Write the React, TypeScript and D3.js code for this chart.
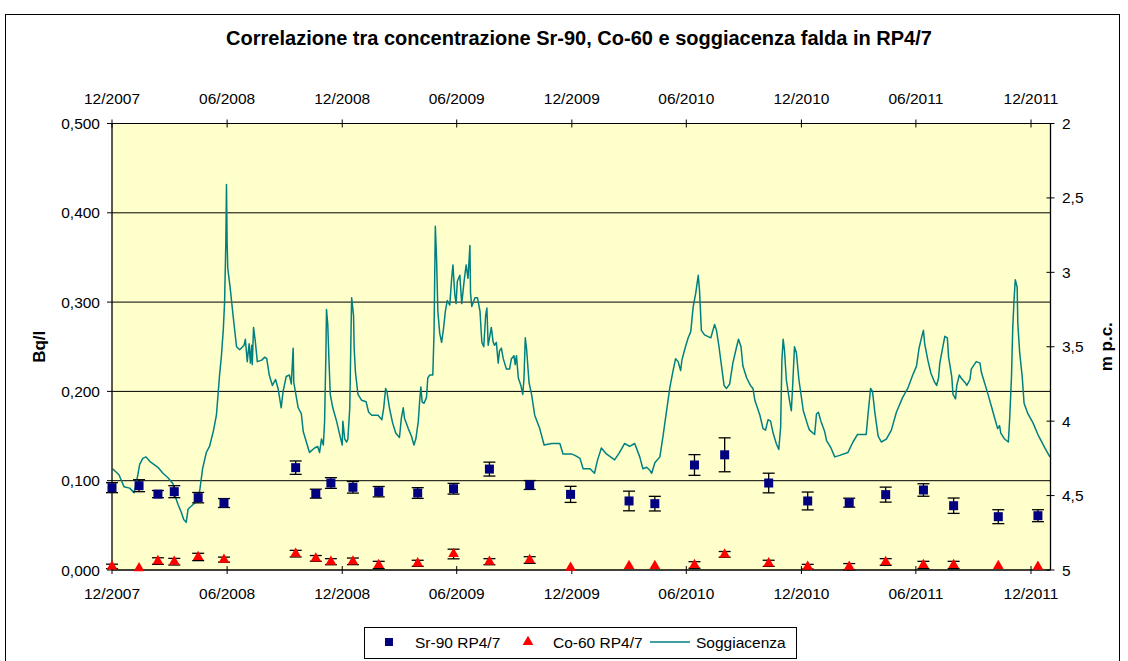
import React from "react";
import * as d3 from "d3";

const TITLE = "Correlazione tra concentrazione Sr-90, Co-60 e soggiacenza falda in RP4/7";
const LEFT_TICKS = [0, 0.1, 0.2, 0.3, 0.4, 0.5];
const RIGHT_TICKS = [2, 2.5, 3, 3.5, 4, 4.5, 5];
const DATE_TICKS = ["2007-12-01", "2008-06-01", "2008-12-01", "2009-06-01", "2009-12-01", "2010-06-01", "2010-12-01", "2011-06-01", "2011-12-01"];

const sampleDates = ["2007-12-01","2008-01-13","2008-02-12","2008-03-09","2008-04-16","2008-05-27","2008-09-18","2008-10-20","2008-11-13","2008-12-18","2009-01-28","2009-03-31","2009-05-27","2009-07-23","2009-09-25","2009-11-29","2010-03-02","2010-04-12","2010-06-14","2010-08-01","2010-10-10","2010-12-11","2011-02-15","2011-04-14","2011-06-13","2011-07-31","2011-10-10","2011-12-12"];
const sr90 = [0.0922,0.0944,0.085,0.0877,0.081,0.075,0.1146,0.0855,0.0974,0.0926,0.0877,0.0862,0.091,0.113,0.0952,0.0847,0.0773,0.0743,0.1176,0.129,0.0974,0.0773,0.0754,0.0844,0.0896,0.072,0.0597,0.0608];
const sr90Err = [0.0056,0.0067,0.004,0.0067,0.0058,0.005,0.0075,0.005,0.006,0.0065,0.0058,0.006,0.006,0.0078,0.005,0.009,0.011,0.0082,0.0116,0.019,0.011,0.01,0.005,0.0084,0.007,0.0086,0.0078,0.0067];
const co60 = [0.004,0.002,0.01,0.0093,0.0146,0.0116,0.0183,0.013,0.0093,0.0097,0.0056,0.0075,0.0179,0.0093,0.0112,0.0026,0.0045,0.0045,0.0056,0.0175,0.0075,0.0037,0.0037,0.009,0.0056,0.0056,0.0045,0.0037];
const co60Err = [0.0025,0,0.0037,0.0037,0.0041,0.0028,0.0037,0.0032,0.0034,0.0037,0.0041,0.0034,0.0054,0.0034,0.0037,0,0,0,0.0037,0.0032,0.0034,0.0026,0.0035,0.0037,0.0041,0.0041,0,0];

const soggDates = ["2007-12-02","2007-12-12","2007-12-20","2007-12-29","2008-01-05","2008-01-09","2008-01-14","2008-01-19","2008-01-24","2008-01-30","2008-02-12","2008-02-20","2008-02-28","2008-03-07","2008-03-10","2008-03-15","2008-03-20","2008-03-24","2008-03-28","2008-03-31","2008-04-08","2008-04-16","2008-04-19","2008-04-23","2008-04-29","2008-05-04","2008-05-10","2008-05-15","2008-05-18","2008-05-20","2008-05-23","2008-05-26","2008-05-28","2008-05-30","2008-05-31","2008-06-01","2008-06-02","2008-06-06","2008-06-11","2008-06-16","2008-06-21","2008-06-28","2008-06-30","2008-07-03","2008-07-06","2008-07-08","2008-07-10","2008-07-11","2008-07-13","2008-07-16","2008-07-19","2008-07-26","2008-07-31","2008-08-03","2008-08-07","2008-08-12","2008-08-17","2008-08-21","2008-08-26","2008-08-29","2008-09-03","2008-09-08","2008-09-11","2008-09-14","2008-09-15","2008-09-22","2008-09-27","2008-09-30","2008-10-05","2008-10-10","2008-10-18","2008-10-23","2008-10-26","2008-10-29","2008-11-01","2008-11-03","2008-11-05","2008-11-06","2008-11-08","2008-11-10","2008-11-12","2008-11-16","2008-11-22","2008-11-27","2008-12-01","2008-12-02","2008-12-05","2008-12-08","2008-12-10","2008-12-13","2008-12-15","2008-12-16","2008-12-19","2008-12-20","2008-12-22","2008-12-26","2009-01-01","2009-01-08","2009-01-12","2009-01-17","2009-01-27","2009-02-02","2009-02-05","2009-02-08","2009-02-10","2009-02-14","2009-02-19","2009-02-24","2009-03-02","2009-03-05","2009-03-08","2009-03-10","2009-03-16","2009-03-21","2009-03-25","2009-03-28","2009-04-01","2009-04-03","2009-04-05","2009-04-07","2009-04-10","2009-04-14","2009-04-16","2009-04-19","2009-04-24","2009-04-26","2009-04-28","2009-04-30","2009-05-02","2009-05-05","2009-05-08","2009-05-11","2009-05-14","2009-05-17","2009-05-21","2009-05-24","2009-05-26","2009-05-29","2009-05-31","2009-06-02","2009-06-06","2009-06-09","2009-06-13","2009-06-16","2009-06-19","2009-06-22","2009-06-23","2009-06-25","2009-06-30","2009-07-04","2009-07-08","2009-07-11","2009-07-14","2009-07-17","2009-07-19","2009-07-21","2009-07-24","2009-07-26","2009-07-29","2009-07-31","2009-08-03","2009-08-06","2009-08-08","2009-08-11","2009-08-14","2009-08-19","2009-08-24","2009-08-27","2009-08-31","2009-09-02","2009-09-04","2009-09-07","2009-09-11","2009-09-14","2009-09-16","2009-09-18","2009-09-20","2009-09-24","2009-09-28","2009-10-03","2009-10-11","2009-10-18","2009-10-30","2009-11-12","2009-11-17","2009-11-25","2009-11-30","2009-12-06","2009-12-14","2009-12-19","2009-12-30","2010-01-06","2010-01-11","2010-01-17","2010-01-25","2010-02-07","2010-02-15","2010-02-23","2010-03-03","2010-03-11","2010-03-19","2010-03-24","2010-03-30","2010-04-04","2010-04-07","2010-04-12","2010-04-20","2010-04-25","2010-04-30","2010-05-06","2010-05-11","2010-05-15","2010-05-19","2010-05-23","2010-05-25","2010-05-30","2010-06-04","2010-06-08","2010-06-12","2010-06-16","2010-06-20","2010-06-22","2010-06-25","2010-06-30","2010-07-10","2010-07-14","2010-07-16","2010-07-19","2010-07-23","2010-07-27","2010-07-31","2010-08-04","2010-08-09","2010-08-14","2010-08-20","2010-08-23","2010-08-27","2010-08-30","2010-09-05","2010-09-11","2010-09-15","2010-09-18","2010-09-26","2010-10-01","2010-10-05","2010-10-09","2010-10-13","2010-10-17","2010-10-22","2010-10-26","2010-10-29","2010-10-31","2010-11-02","2010-11-04","2010-11-07","2010-11-12","2010-11-15","2010-11-17","2010-11-20","2010-11-23","2010-11-27","2010-12-04","2010-12-12","2010-12-14","2010-12-22","2010-12-25","2010-12-28","2011-01-01","2011-01-07","2011-01-10","2011-01-17","2011-01-23","2011-01-31","2011-02-13","2011-02-21","2011-02-28","2011-03-14","2011-03-17","2011-03-21","2011-03-24","2011-03-28","2011-04-02","2011-04-07","2011-04-15","2011-04-23","2011-05-01","2011-05-11","2011-05-19","2011-05-27","2011-06-02","2011-06-06","2011-06-11","2011-06-13","2011-06-15","2011-06-20","2011-06-25","2011-07-01","2011-07-04","2011-07-07","2011-07-09","2011-07-13","2011-07-17","2011-07-21","2011-07-23","2011-07-28","2011-07-30","2011-08-03","2011-08-05","2011-08-09","2011-08-12","2011-08-18","2011-08-21","2011-08-26","2011-08-28","2011-09-05","2011-09-11","2011-09-13","2011-09-18","2011-09-23","2011-09-29","2011-10-05","2011-10-09","2011-10-12","2011-10-14","2011-10-20","2011-10-26","2011-10-28","2011-10-31","2011-11-02","2011-11-04","2011-11-06","2011-11-09","2011-11-10","2011-11-13","2011-11-17","2011-11-20","2011-11-26","2011-12-04","2011-12-12","2011-12-23","2011-12-31"];
const soggDepth = [4.32,4.36,4.44,4.45,4.48,4.41,4.29,4.25,4.24,4.27,4.31,4.35,4.38,4.42,4.50,4.56,4.61,4.66,4.68,4.59,4.56,4.53,4.45,4.32,4.21,4.17,4.07,3.96,3.80,3.69,3.56,3.38,3.20,2.79,2.41,2.79,2.97,3.11,3.31,3.50,3.52,3.49,3.45,3.60,3.48,3.61,3.49,3.62,3.37,3.47,3.60,3.59,3.57,3.58,3.69,3.76,3.72,3.78,3.91,3.80,3.70,3.69,3.75,3.51,3.74,3.91,3.95,4.07,4.14,4.21,4.18,4.17,4.21,4.12,4.16,4.00,3.56,3.25,3.35,3.60,3.82,3.91,4.00,4.09,4.16,4.00,4.12,4.14,4.12,3.91,3.40,3.17,3.29,3.51,3.67,3.82,3.86,3.87,3.94,3.96,3.96,3.99,3.91,3.78,3.80,3.91,4.01,4.08,4.11,3.98,3.91,3.98,4.05,4.10,4.16,4.12,4.00,3.87,3.77,3.87,3.88,3.84,3.71,3.69,3.69,3.40,2.69,2.91,3.26,3.41,3.47,3.38,3.26,3.19,3.22,3.04,2.95,3.15,3.21,3.06,3.02,3.21,3.05,2.95,3.04,2.82,3.14,3.23,3.17,3.17,3.26,3.47,3.50,3.29,3.24,3.49,3.42,3.37,3.47,3.49,3.47,3.61,3.53,3.51,3.58,3.65,3.65,3.58,3.56,3.62,3.56,3.71,3.76,3.82,3.71,3.44,3.51,3.74,3.82,3.96,4.05,4.16,4.15,4.15,4.22,4.22,4.22,4.23,4.25,4.32,4.32,4.35,4.26,4.18,4.22,4.26,4.21,4.15,4.17,4.15,4.24,4.32,4.31,4.33,4.35,4.28,4.24,4.10,3.95,3.77,3.66,3.58,3.60,3.66,3.59,3.51,3.44,3.40,3.23,3.14,3.02,3.12,3.39,3.42,3.44,3.38,3.35,3.39,3.50,3.63,3.76,3.78,3.75,3.61,3.50,3.45,3.50,3.63,3.71,3.76,3.78,3.86,3.96,4.05,4.06,3.99,4.00,4.08,4.15,4.19,4.04,3.59,3.45,3.52,3.72,3.86,3.93,3.77,3.50,3.54,3.72,3.93,4.04,4.06,4.09,3.95,3.94,4.00,4.07,4.13,4.18,4.24,4.23,4.21,4.14,4.09,4.09,3.95,3.78,3.80,3.95,4.10,4.14,4.12,4.06,3.94,3.84,3.78,3.69,3.63,3.51,3.42,3.39,3.48,3.59,3.68,3.74,3.76,3.71,3.61,3.52,3.43,3.44,3.57,3.70,3.82,3.85,3.76,3.69,3.71,3.74,3.76,3.72,3.65,3.60,3.61,3.67,3.74,3.81,3.90,3.99,4.05,4.03,4.08,4.12,4.14,3.99,3.70,3.37,3.19,3.05,3.10,3.34,3.54,3.70,3.88,3.95,4.01,4.09,4.18,4.24];

const FONT = "'Liberation Sans', Arial, sans-serif";
const NAVY = "#000080";
const RED = "#FF0000";
const TEAL = "#008080";
const TICK_FS = 15.5;

export default function App() {
  const x = d3.scaleUtc().domain([new Date("2007-12-01"), new Date("2012-01-01")]).range([112, 1050.5]);
  const yL = d3.scaleLinear().domain([0, 0.5]).range([570, 123.5]);
  const yR = d3.scaleLinear().domain([2, 5]).range([123.5, 570]);
  const [x0, x1] = x.range();
  const [yb, yt] = yL.range();
  const fmtL = (v: number) => d3.format(".3f")(v).replace(".", ",");
  const fmtR = (v: number) => String(v).replace(".", ",");
  const fmtD = d3.utcFormat("%m/%Y");

  const soggPts: [Date, number][] = soggDates.map((d, i) => [new Date(d), soggDepth[i]]);
  const line = d3.line<[Date, number]>().x(p => x(p[0])).y(p => yR(p[1]));
  const tri = d3.symbol().type(d3.symbolTriangle).size(50)();

  const errBar = (cx: number, v: number, e: number, key: string) => {
    if (!e) return null;
    const top = yL(v + e), bot = yL(v - e);
    return (
      <g key={key} stroke="#000" strokeWidth={1.3}>
        <line x1={cx} x2={cx} y1={top} y2={bot} />
        <line x1={cx - 6} x2={cx + 6} y1={top} y2={top} />
        <line x1={cx - 6} x2={cx + 6} y1={bot} y2={bot} />
      </g>
    );
  };

  return (
    <svg width={1128} height={661} style={{ position: "absolute", left: 0, top: 0, display: "block" }} fontFamily={FONT}>
      <rect x={0} y={0} width={1128} height={661} fill="#fff" />
      <rect x={5.5} y={14.5} width={1114} height={700} fill="#fff" stroke="#000" strokeWidth={1} />
      <text x={579} y={45} textAnchor="middle" fontSize={20} fontWeight="bold">{TITLE}</text>

      <rect x={x0} y={yt} width={x1 - x0} height={yb - yt} fill="#FFFFCC" />
      {LEFT_TICKS.filter(v => v > 0).map(v => (
        <line key={"g" + v} x1={x0} x2={x1} y1={yL(v)} y2={yL(v)} stroke="#000" strokeWidth={1} />
      ))}

      <path d={line(soggPts) || ""} fill="none" stroke={TEAL} strokeWidth={1.5} strokeLinejoin="round" />

      {/* axes */}
      <line x1={x0} x2={x0} y1={yt} y2={yb} stroke="#000" strokeWidth={1.3} />
      <line x1={x1} x2={x1} y1={yt} y2={yb} stroke="#000" strokeWidth={1.3} />
      <line x1={x0} x2={x1} y1={yb} y2={yb} stroke="#000" strokeWidth={1.3} />
      {LEFT_TICKS.map(v => (
        <g key={"l" + v}>
          <line x1={x0 - 5} x2={x0} y1={yL(v)} y2={yL(v)} stroke="#000" />
          <text x={100} y={yL(v) + 5.5} textAnchor="end" fontSize={TICK_FS}>{fmtL(v)}</text>
        </g>
      ))}
      {RIGHT_TICKS.map(v => (
        <g key={"r" + v}>
          <line x1={x1 - 4} x2={x1 + 4} y1={yR(v)} y2={yR(v)} stroke="#000" />
          <text x={1062} y={yR(v) + 5.5} textAnchor="start" fontSize={TICK_FS}>{fmtR(v)}</text>
        </g>
      ))}
      {DATE_TICKS.map(d => {
        const px = x(new Date(d));
        return (
          <g key={"d" + d}>
            <line x1={px} x2={px} y1={yb - 4} y2={yb + 4} stroke="#000" />
            <line x1={px} x2={px} y1={yt - 4} y2={yt + 4} stroke="#000" />
            <text x={px} y={598.5} textAnchor="middle" fontSize={TICK_FS}>{fmtD(new Date(d))}</text>
            <text x={px} y={103.5} textAnchor="middle" fontSize={TICK_FS}>{fmtD(new Date(d))}</text>
          </g>
        );
      })}

      {/* error bars and markers */}
      {sampleDates.map((d, i) => errBar(x(new Date(d)), sr90[i], sr90Err[i], "es" + i))}
      {sampleDates.map((d, i) => errBar(x(new Date(d)), co60[i], co60Err[i], "ec" + i))}
      {sampleDates.map((d, i) => (
        <rect key={"s" + i} x={x(new Date(d)) - 4.5} y={yL(sr90[i]) - 4.5} width={9} height={9} fill={NAVY} />
      ))}
      {sampleDates.map((d, i) => (
        <path key={"c" + i} d={tri || ""} transform={`translate(${x(new Date(d))},${yL(co60[i])})`} fill={RED} />
      ))}

      {/* axis titles */}
      <text transform={`translate(45,${(yt + yb) / 2}) rotate(-90)`} textAnchor="middle" fontSize={17} fontWeight="bold">Bq/l</text>
      <text transform={`translate(1112,${(yt + yb) / 2}) rotate(-90)`} textAnchor="middle" fontSize={17} fontWeight="bold">m p.c.</text>

      {/* legend */}
      <rect x={364.5} y={627.5} width={432} height={31} fill="#fff" stroke="#000" strokeWidth={1} />
      <rect x={385} y={638} width={8} height={8} fill={NAVY} />
      <text x={415} y={647.5} fontSize={TICK_FS}>Sr-90 RP4/7</text>
      <path d={tri || ""} transform="translate(528,642)" fill={RED} />
      <text x={553} y={647.5} fontSize={TICK_FS}>Co-60 RP4/7</text>
      <line x1={650} x2={690} y1={642} y2={642} stroke={TEAL} strokeWidth={1.5} />
      <text x={696} y={647.5} fontSize={TICK_FS}>Soggiacenza</text>
    </svg>
  );
}
